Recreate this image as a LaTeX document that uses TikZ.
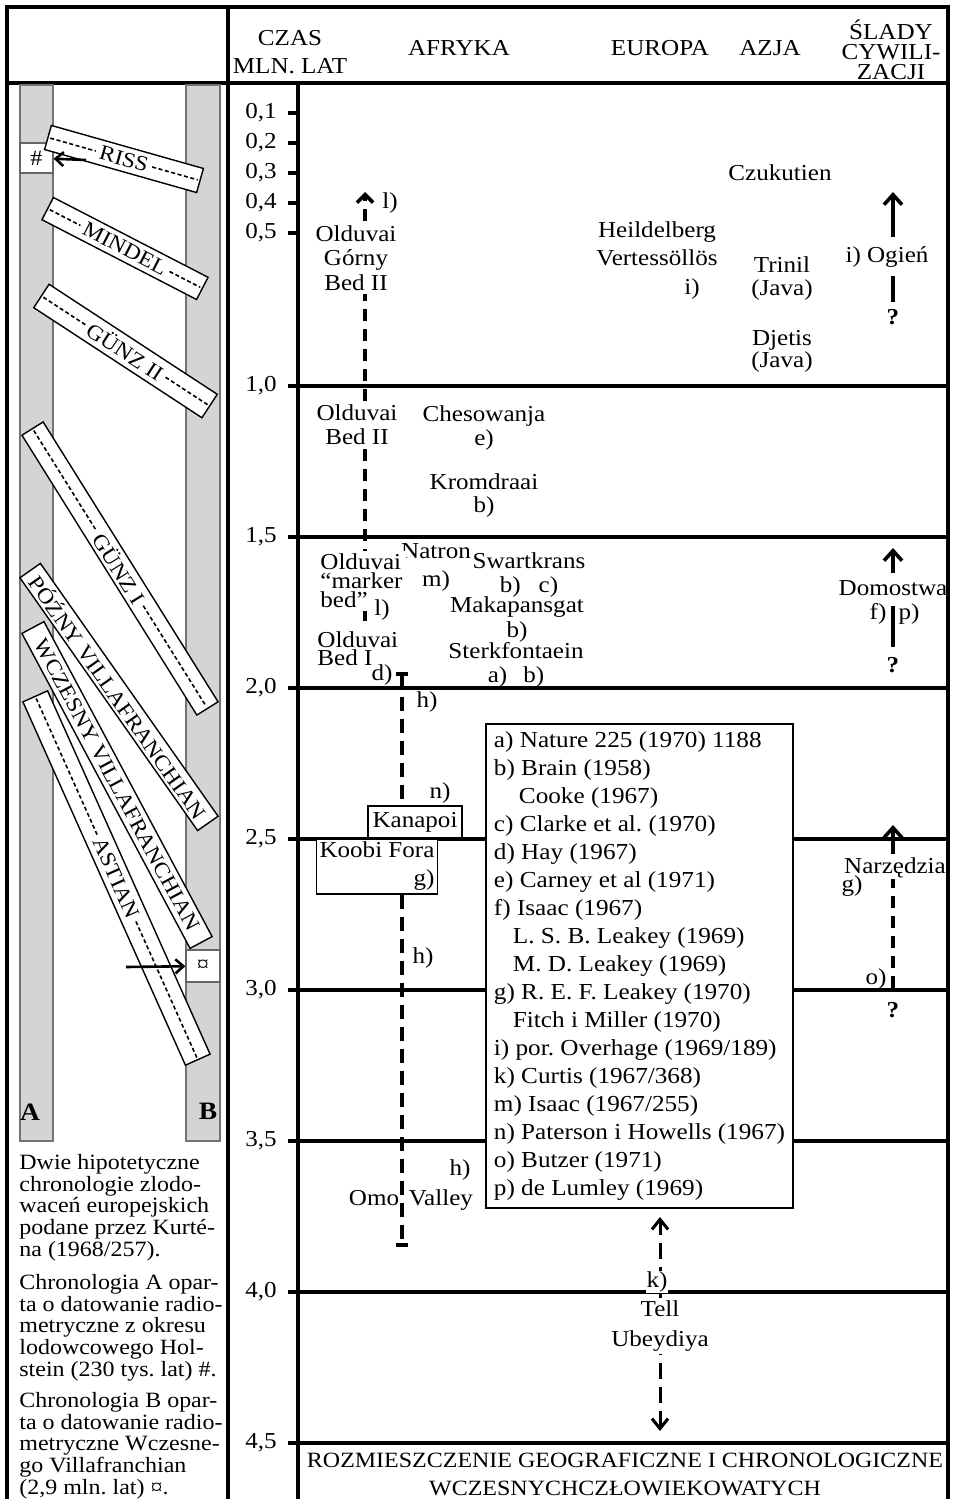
\documentclass[tikz,border=0pt]{standalone}
\usepackage{fontspec}
\setmainfont{Liberation Serif}[FakeStretch=1.1]
\usepackage{tikz}
\usetikzlibrary{arrows.meta, backgrounds}
\usetikzlibrary{positioning}
\definecolor{bargray}{RGB}{211,212,214}
\tikzstyle{rule} = [line width=1.7pt]
\tikzstyle{stem} = [line width=1.8pt]
\tikzstyle{colhead} = [inner sep=0pt, align=center, font=\fontsize{11.4}{14}\selectfont]
\tikzstyle{axlab} = [inner sep=0pt, anchor=east, font=\fontsize{11.4}{12}\selectfont]
\tikzstyle{site} = [inner sep=0pt, align=center, font=\fontsize{11.4}{12}\selectfont]
\tikzstyle{siteon} = [site, fill=white, inner sep=1.5pt]
\tikzstyle{query} = [inner sep=0pt, font=\fontsize{11.4}{12}\selectfont\bfseries]
\tikzstyle{sitebox} = [draw, fill=white, line width=0.8pt, inner sep=1.5pt, font=\fontsize{11.4}{14}\selectfont]
\tikzstyle{refs} = [draw, fill=white, line width=1pt, align=left, inner sep=0pt, minimum width=153.5pt, minimum height=242pt, font=\fontsize{11.45}{14}\selectfont]
\tikzstyle{icebar} = [fill=bargray, draw=black!55, line width=0.6pt]
\tikzstyle{letter} = [inner sep=0pt, font=\fontsize{12.5}{12}\selectfont\bfseries]
\tikzstyle{markbox} = [draw=black!60, fill=white, line width=0.6pt, inner sep=0pt, font=\fontsize{11}{12}\selectfont]
\tikzstyle{stageband} = [draw, fill=white, line width=0.7pt, inner sep=0pt, minimum height=12.5pt, font=\fontsize{10.7}{12}\selectfont]
\tikzstyle{bandtext} = [inner xsep=2pt, inner ysep=0pt, font=\fontsize{10.7}{12}\selectfont]
\tikzstyle{bandline} = [line width=0.8pt, dash pattern=on 2pt off 1.3pt]
\tikzstyle{note} = [anchor=north west, align=left, inner sep=0pt, font=\fontsize{10.9}{10.85}\selectfont]
\tikzstyle{trail} = [line width=1.8pt, dash pattern=on 6pt off 4pt]
\tikzstyle{rangeline} = [line width=1.8pt, dash pattern=on 7pt off 4pt]
\tikzstyle{tellline} = [line width=1.5pt, dash pattern=on 8pt off 4pt]
\tikzstyle{arrow} = [line width=1.8pt, -{Straight Barb[length=5pt,width=9pt]}]
\tikzstyle{pointer} = [line width=1.3pt, -{Straight Barb[length=4pt,width=7pt]}]

\begin{document}
\frenchspacing
\lineskiplimit=-20pt
\begin{tikzpicture}[x=0.5pt, y=-0.5pt]
\useasboundingbox (0,0) rectangle (953,1499);

% frame
\draw[rule] (7,1499) -- (7,7) -- (948,7) -- (948,1499);
\draw[rule] (7,83) -- (948,83);
\draw[rule] (228,7) -- (228,1499);
\draw[rule] (298,83) -- (298,1499);

% heads
\node (czas) [colhead] at (290,52) {CZAS\\MLN. LAT};
\node (afryka) [colhead] at (459,48) {AFRYKA};
\node (europa) [colhead] at (660,48) {EUROPA};
\node (azja) [colhead] at (770,48) {AZJA};
\node (slady) [colhead, font=\fontsize{11.4}{10}\selectfont] at (891,49.5) {ŚLADY\\CYWILI-\\ZACJI};

% time scale
\foreach \yy/\lab in {113/{0,1},143/{0,2},173/{0,3},203/{0,4},233/{0,5}}{
  \node (tick\yy) [axlab] at (277,\yy) {\lab};
  \draw[rule] (288,\yy) -- (298,\yy);
}
\foreach \yy/\lab in {386/{1,0},537/{1,5},688/{2,0},839/{2,5},990/{3,0},1141/{3,5},1292/{4,0},1443/{4,5}}{
  \node (tick\yy) [axlab] at (277,\yy) {\lab};
  \draw[rule] (288,\yy) -- (948,\yy);
}

% glaciations, left panel
\draw[icebar] (20,85) rectangle (53,1141);
\draw[icebar] (186,85) rectangle (220,1141);
\node (colA) [letter] at (30,1112) {A};
\node (colB) [letter] at (208,1111) {B};
\node (hashbox) [markbox, minimum width=16.5pt, minimum height=15pt] at (36.5,158) {\#};
\node (curbox) [markbox, minimum width=17pt, minimum height=16pt] at (203,966) {¤};

\node (riss) [stageband, rotate=-15.8, minimum width=79pt] at (124,159) {};
\node (rissText) [bandtext, rotate=-15.8] at (riss.center) {RISS};
\draw[bandline, shorten <=1.5pt] (riss.west) -- (rissText.west);
\draw[bandline, shorten >=1.5pt] (rissText.east) -- (riss.east);

\node (mindel) [stageband, rotate=-27.3, minimum width=87pt] at (125,248.5) {};
\node (mindelText) [bandtext, rotate=-27.3] at (mindel.center) {MINDEL};
\draw[bandline, shorten <=1.5pt] (mindel.west) -- (mindelText.west);
\draw[bandline, shorten >=1.5pt] (mindelText.east) -- (mindel.east);

\node (gunzII) [stageband, rotate=-33.2, minimum width=100.5pt, minimum height=14pt] at (125.5,351) {};
\node (gunzIIText) [bandtext, rotate=-33.2] at (gunzII.center) {GÜNZ II};
\draw[bandline, shorten <=1.5pt] (gunzII.west) -- (gunzIIText.west);
\draw[bandline, shorten >=1.5pt] (gunzIIText.east) -- (gunzII.east);

\node (gunzI) [stageband, rotate=-58, minimum width=165pt] at (120,568.5) {};
\node (gunzIText) [bandtext, rotate=-58] at (gunzI.center) {GÜNZ I};
\draw[bandline, shorten <=1.5pt] (gunzI.west) -- (gunzIText.west);
\draw[bandline, shorten >=1.5pt] (gunzIText.east) -- (gunzI.east);

\node (pozny) [stageband, rotate=-54.9, minimum width=154.5pt] at (119,697) {PÓŹNY VILLAFRANCHIAN};
\node (wczesny) [stageband, rotate=-61.9, minimum width=178.5pt] at (117,785) {WCZESNY VILLAFRANCHIAN};

\node (astian) [stageband, rotate=-65.9, minimum width=199pt, minimum height=13.5pt] at (116.5,878) {};
\node (astianText) [bandtext, rotate=-65.9] at (astian.center) {ASTIAN};
\draw[bandline, shorten <=1.5pt] (astian.west) -- (astianText.west);
\draw[bandline, shorten >=1.5pt] (astianText.east) -- (astian.east);

\coordinate (hashtail) at (86,160);
\coordinate (curtail) at (126,967);
\draw[pointer] (hashtail) -- (hashbox);
\draw[pointer] (curtail) -- (curbox);

\node (noteKurten) [note] at (19,1154) {Dwie hipotetyczne\\chronologie zlodo-\\waceń europejskich\\podane przez Kurté-\\na (1968/257).};
\node (noteA) [note] at (19,1274) {Chronologia A opar-\\ta o datowanie radio-\\metryczne z okresu\\lodowcowego Hol-\\stein (230 tys. lat) \#.};
\node (noteB) [note] at (19,1392) {Chronologia B opar-\\ta o datowanie radio-\\metryczne Wczesne-\\go Villafranchian\\(2,9 mln. lat) ¤.};

% sites
\node (oldGorny) [siteon, font=\fontsize{11.4}{12.25}\selectfont] at (356,258) {Olduvai\\Górny\\Bed II};
\node (lTop) [site] at (390,203) {l)};
\node (czukutien) [site] at (780,173) {Czukutien};
\node (heidelberg) [site, font=\fontsize{11.4}{14}\selectfont] at (657,244) {Heildelberg\\Vertessöllös};
\node (heidelTag) [site] at (692,289) {i)};
\node (trinil) [site, font=\fontsize{11.4}{11.5}\selectfont] at (782,279) {Trinil\\(Java)};
\node (djetis) [site, font=\fontsize{11.4}{11}\selectfont] at (782,351) {Djetis\\(Java)};

\node (oldBedII) [siteon] at (357,425) {Olduvai\\Bed II};
\node (chesowanja) [site] at (484,428) {Chesowanja\\e)};
\node (kromdraai) [site, font=\fontsize{11.4}{11.5}\selectfont] at (484,496) {Kromdraai\\b)};

\node (natron) [site, font=\fontsize{11.4}{14}\selectfont] at (436,567) {Natron\\m)};
\node (swartkrans) [site] at (529,575) {Swartkrans\\b)\hspace{9pt}c)};
\node (oldMarker) [siteon, anchor=west, align=left, font=\fontsize{11.4}{9.5}\selectfont] at (317,581) {Olduvai\\“marker\\bed”};
\node (lBottom) [site] at (382,610) {l)};
\node (makapansgat) [site, font=\fontsize{11.4}{12.5}\selectfont] at (517,620) {Makapansgat\\b)};
\node (sterkfontaein) [site] at (516,665) {Sterkfontaein\\a)\hspace{8pt}b)};
\node (oldBedI) [site, anchor=west, align=left, font=\fontsize{11.4}{9}\selectfont] at (317,649) {Olduvai\\Bed I};
\node (dTag) [site] at (382,675) {d)};

\node (hTag1) [site] at (427,702) {h)};
\node (nTag) [site] at (440,793) {n)};
\node (kanapoi) [sitebox, minimum width=47pt, minimum height=16pt] at (415,822) {Kanapoi};
\node (koobiFora) [sitebox, align=right, minimum width=60pt, minimum height=26.5pt] at (377,866.5) {Koobi Fora\\g)};
\node (hTag2) [site] at (423,958) {h)};
\node (hTag3) [site] at (460,1170) {h)};
\node (omo) [site] at (374,1198) {Omo};
\node (valley) [site, right=4.5pt of omo.base east, anchor=base west] {Valley};

\node (kTag) [siteon, inner sep=0.5pt] at (657,1282) {k)};
\node (tell) [siteon, font=\fontsize{11.4}{15}\selectfont] at (660,1326) {Tell\\Ubeydiya};

% references
\node (refs) [refs] at (639.5,966) {a) Nature 225 (1970) 1188\\
b) Brain (1958)\\
\hspace*{12.5pt}Cooke (1967)\\
c) Clarke et al. (1970)\\
d) Hay (1967)\\
e) Carney et al (1971)\\
f) Isaac (1967)\\
\hspace*{9.5pt}L. S. B. Leakey (1969)\\
\hspace*{9.5pt}M. D. Leakey (1969)\\
g) R. E. F. Leakey (1970)\\
\hspace*{9.5pt}Fitch i Miller (1970)\\
i) por. Overhage (1969/189)\\
k) Curtis (1967/368)\\
m) Isaac (1967/255)\\
n) Paterson i Howells (1967)\\
o) Butzer (1971)\\
p) de Lumley (1969)};

% traces of civilisation
\node (ogien) [site] at (887,257) {i) Ogień};
\node (ogienQ) [query] at (893,317) {?};
\coordinate (ogienTip) at (893,192);
\draw[stem, shorten <=3.5pt, shorten >=4pt] (ogienQ) -- (ogienQ |- ogien.south);
\draw[arrow, shorten <=4.5pt] (ogienQ |- ogien.north) -- (ogienTip);

\node (domostwa) [site] at (893,588) {Domostwa};
\node (fTag) [site] at (878,614) {f)};
\node (pTag) [site] at (909,614) {p)};
\node (domQ) [query] at (893,665) {?};
\coordinate (domTip) at (893,548);
\draw[stem, shorten <=5pt, shorten >=5pt] (domQ) -- (domostwa);
\draw[arrow, shorten <=3.5pt] (domostwa) -- (domTip);

\node (narzedzia) [site] at (895,868) {Narzędzia};
\node (gTag) [site] at (852,886) {g)};
\node (oTag) [site] at (876,979) {o)};
\node (narzQ) [query] at (893,1010) {?};
\coordinate (narzTip) at (893,825);
\draw[trail, shorten <=7pt] (narzQ) -- (narzQ |- narzedzia.south);
\draw[arrow, shorten <=1.5pt] (narzQ |- narzedzia.north) -- (narzTip);

\node (caption) [site, font=\fontsize{10.9}{14}\selectfont] at (625,1474) {ROZMIESZCZENIE GEOGRAFICZNE I CHRONOLOGICZNE\\WCZESNYCHCZŁOWIEKOWATYCH};

% time ranges
\coordinate (oldTip) at (365,192);
\coordinate (oldBase) at (365,621);
\coordinate (hTop) at (402,672);
\coordinate (hBot) at (402,1247);
\coordinate (tellTop) at (660,1217);
\coordinate (tellBot) at (660,1431);
\begin{scope}[on background layer]
  \draw[trail, -{Straight Barb[length=4pt,width=8pt]}] (oldBase) -- (oldTip);
  \draw[rangeline, {Bar[width=6pt]}-{Bar[width=6pt]}] (hTop) -- (hBot);
  \draw[tellline, {Straight Barb[length=5pt,width=8pt]}-{Straight Barb[length=5pt,width=8pt]}] (tellBot) -- (tellTop);
\end{scope}

\end{tikzpicture}
\end{document}
